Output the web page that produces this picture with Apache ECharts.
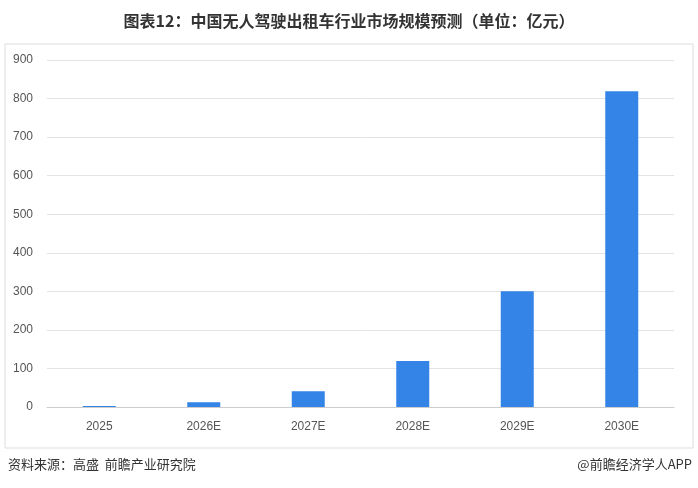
<!DOCTYPE html>
<html><head><meta charset="utf-8">
<script src="https://cdn.jsdelivr.net/npm/echarts@6/dist/echarts.min.js"></script>
<style>html,body{margin:0;padding:0;background:#fff}#c{width:698px;height:488px}</style>
</head><body><div id="c"></div>
<script>
const categories = ['2025','2026E','2027E','2028E','2029E','2030E'];
const values = [2.5, 12, 41, 119, 300, 819];
const chart = echarts.init(document.getElementById('c'));
chart.setOption({
  animation:false,
  title:{text:'图表12：中国无人驾驶出租车行业市场规模预测（单位：亿元）',left:'center',top:8,
    textStyle:{fontSize:16,fontWeight:'bold',color:'#333',fontFamily:'Noto Sans CJK SC'}},
  graphic:[
    {type:'rect',shape:{x:5,y:44,width:688,height:404},style:{fill:'none',stroke:'#ddd',lineWidth:1}},
    {type:'text',left:8,top:458,style:{text:'资料来源：高盛  前瞻产业研究院',fontSize:13,fill:'#333',fontFamily:'Noto Sans CJK SC'}},
    {type:'text',right:6,top:458,style:{text:'@前瞻经济学人APP',fontSize:13,fill:'#333',fontFamily:'Noto Sans CJK SC'}}
  ],
  grid:{left:47,right:24,top:60,bottom:81},
  xAxis:{type:'category',data:categories,axisTick:{show:false},
    axisLine:{lineStyle:{color:'#ccc'}},axisLabel:{color:'#555',fontSize:12,margin:14}},
  yAxis:{type:'value',min:0,max:900,interval:100,axisLabel:{color:'#555',fontSize:12,margin:14},
    splitLine:{lineStyle:{color:'#e3e3e3'}},axisLine:{show:false}},
  series:[{type:'bar',data:values,barWidth:33,itemStyle:{color:'#3384e6'}}]
});
</script></body></html>
